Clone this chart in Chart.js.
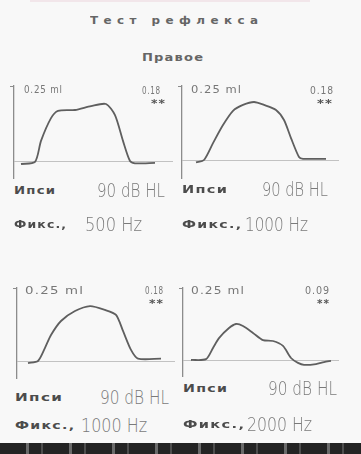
<!DOCTYPE html>
<html>
<head>
<meta charset="utf-8">
<script src="https://cdn.jsdelivr.net/npm/chart.js@4.4.1/dist/chart.umd.min.js"></script>
<style>
  html, body { margin:0; padding:0; }
  body { width:361px; height:454px; position:relative; overflow:hidden; background:#f8f8f8; }
  canvas { position:absolute; }
  .lbl { position:absolute; white-space:nowrap; transform-origin:0 50%; }
  #topbar { position:absolute; left:30px; top:0; width:280px; height:2px; background:rgba(225,170,185,0.22); }
  #bottomband { position:absolute; left:0; top:443px; width:361px; height:11px;
    background: repeating-linear-gradient(90deg, #232323 0 26px, #6a6a6a 26px 29px, #232323 29px 41px, #4d4d4d 41px 43px); }
</style>
</head>
<body>
<div id="topbar"></div>
<div id="bottomband"></div>
<script>
// ---------- data ----------
const titleText = "Тест рефлекса";
const earLabel = "Правое";
const scaleLabel = "0.25 ml";
const modeLabels = ["Ипси", "Ипси", "Ипси", "Ипси"];
const levelLabels = ["90 dB HL", "90 dB HL", "90 dB HL", "90 dB HL"];
const freqLabels = ["500 Hz", "1000 Hz", "1000 Hz", "2000 Hz"];
const peakLabels = ["0.18", "0.18", "0.18", "0.09"];
const markLabels = ["**", "**", "**", "**"];

const p1Time = [7, 21, 27, 37, 44, 61, 77, 92, 101, 109, 116, 121, 141];
const p1Vol  = [-0.01, -0.003, 0.067, 0.143, 0.167, 0.17, 0.183, 0.19, 0.153, 0.067, 0, -0.008, -0.006];

const p2Time = [14, 22, 31, 41, 51, 61, 72, 82, 94, 102, 109, 117, 121, 144];
const p2Vol  = [-0.008, 0, 0.057, 0.118, 0.166, 0.186, 0.196, 0.186, 0.169, 0.135, 0.074, 0.01, 0.004, 0.004];

const p3Time = [11, 21, 28, 34, 44, 58, 73, 88, 99, 106, 114, 121, 144];
const p3Vol  = [-0.007, 0, 0.045, 0.089, 0.137, 0.171, 0.188, 0.175, 0.158, 0.103, 0.038, 0.008, 0.008];

const p4Time = [8, 23, 30, 36, 46, 53, 60, 70, 80, 90, 100, 108, 115, 121, 133, 141, 148];
const p4Vol  = [0, 0.003, 0.042, 0.076, 0.111, 0.125, 0.118, 0.094, 0.069, 0.066, 0.049, 0.007, -0.01, -0.017, -0.014, -0.007, -0.003];

const yMax = 0.25;

// ---------- layout ----------
const panels = [
  { time:p1Time, vol:p1Vol, axisX:14,  top:86,  bottom:178, right:173, base:161 },
  { time:p2Time, vol:p2Vol, axisX:182, top:86,  bottom:178, right:339, base:160 },
  { time:p3Time, vol:p3Vol, axisX:17,  top:288, bottom:378, right:175, base:361 },
  { time:p4Time, vol:p4Vol, axisX:183, top:288, bottom:376, right:339, base:360 }
];

const AXIS_W = 6, PAD_T = 2, PAD_B = 1;

panels.forEach((p, i) => {
  const chartW = p.right - p.axisX;
  const chartH = p.bottom - p.top;
  const yMin = -yMax * (p.bottom - p.base) / (p.base - p.top);
  const cv = document.createElement('canvas');
  cv.width = chartW + AXIS_W;
  cv.height = chartH + PAD_T + PAD_B;
  cv.style.left = (p.axisX - AXIS_W) + 'px';
  cv.style.top = (p.top - PAD_T) + 'px';
  cv.style.width = cv.width + 'px';
  cv.style.height = cv.height + 'px';
  document.body.appendChild(cv);
  new Chart(cv, {
    type: 'line',
    data: { datasets: [{
      data: p.time.map((t, k) => ({ x: t, y: p.vol[k] })),
      borderColor: '#5f5f5f', borderWidth: 1.8, pointRadius: 0, tension: 0.25, fill: false
    }]},
    options: {
      responsive: false, animation: false, devicePixelRatio: 1,
      layout: { padding: { top: PAD_T, bottom: PAD_B, left: 0, right: 0 } },
      plugins: { legend: { display: false }, tooltip: { enabled: false } },
      scales: {
        x: { type: 'linear', display: false, min: 0, max: chartW },
        y: {
          min: yMin, max: yMax,
          afterBuildTicks: a => { a.ticks = [{ value: 0 }, { value: yMax }]; },
          afterFit: a => { a.width = AXIS_W; },
          ticks: { display: false },
          border: { display: true, color: '#8c8c8c', width: 1.3 },
          grid: {
            drawTicks: true, tickLength: 4, lineWidth: 1,
            color: c => (c.tick && c.tick.value === 0) ? '#c2c2c2' : 'rgba(0,0,0,0)',
            tickColor: c => (c.tick && c.tick.value === yMax) ? '#8c8c8c' : 'rgba(0,0,0,0)'
          }
        }
      }
    }
  });
});

// ---------- text ----------
function place(text, left, right, cy, font, color, spacing) {
  const s = document.createElement('span');
  s.className = 'lbl';
  s.textContent = text;
  s.style.font = font;
  s.style.color = color;
  s.style.letterSpacing = (spacing || 0) + 'px';
  s.style.lineHeight = '1';
  document.body.appendChild(s);
  const w = s.getBoundingClientRect().width - (spacing || 0);
  const h = s.getBoundingClientRect().height;
  s.style.left = left + 'px';
  s.style.top = (cy - h / 2) + 'px';
  s.style.transform = 'scaleX(' + ((right - left) / w) + ')';
}

const BOLD = 'bold 11px "DejaVu Sans", sans-serif';
const THIN = '11px "DejaVu Sans", sans-serif';
const BIG  = '200 20px "DejaVu Sans", sans-serif';

place(titleText, 90, 258, 20, BOLD, '#666', 5);
place(earLabel, 142, 203, 57, BOLD, '#666', 1);

const txt = [
  { sx:24,  sr:62,  sy:89,  px:142, pr:160, py:90,  mx:151, mr:165, my:103,
    ix:14,  ir:55,  iy:190, lx:97,  lr:165, ly:190, fx:14,  fr:66,  fy:224, hx:85,  hr:142 },
  { sx:191, sr:241, sy:89,  px:310, pr:333, py:90,  mx:317, mr:332, my:103,
    ix:182, ir:227, iy:189, lx:262, lr:328, ly:189, fx:182, fr:241, fy:224, hx:245, hr:308 },
  { sx:25,  sr:83,  sy:290, px:145, pr:163, py:290, mx:149, mr:163, my:303,
    ix:15,  ir:62,  iy:397, lx:100, lr:169, ly:397, fx:15,  fr:74,  fy:425, hx:81,  hr:147 },
  { sx:191, sr:244, sy:290, px:305, pr:329, py:290, mx:317, mr:329, my:303,
    ix:183, ir:227, iy:388, lx:268, lr:337, ly:388, fx:183, fr:244, fy:424, hx:247, hr:312 }
];

txt.forEach((t, i) => {
  place(scaleLabel, t.sx, t.sr, t.sy, THIN, '#777', 1);
  place(peakLabels[i], t.px, t.pr, t.py, THIN, '#777', 1);
  place(markLabels[i], t.mx, t.mr, t.my, BOLD, '#555', 1);
  place(modeLabels[i], t.ix, t.ir, t.iy, BOLD, '#4c4c4c', 1);
  place(levelLabels[i], t.lx, t.lr, t.ly, BIG, '#7a7a7a', 0);
  place('Фикс.,', t.fx, t.fr, t.fy, BOLD, '#4c4c4c', 1);
  place(freqLabels[i], t.hx, t.hr, t.fy, BIG, '#7a7a7a', 0);
});
</script>
</body>
</html>
